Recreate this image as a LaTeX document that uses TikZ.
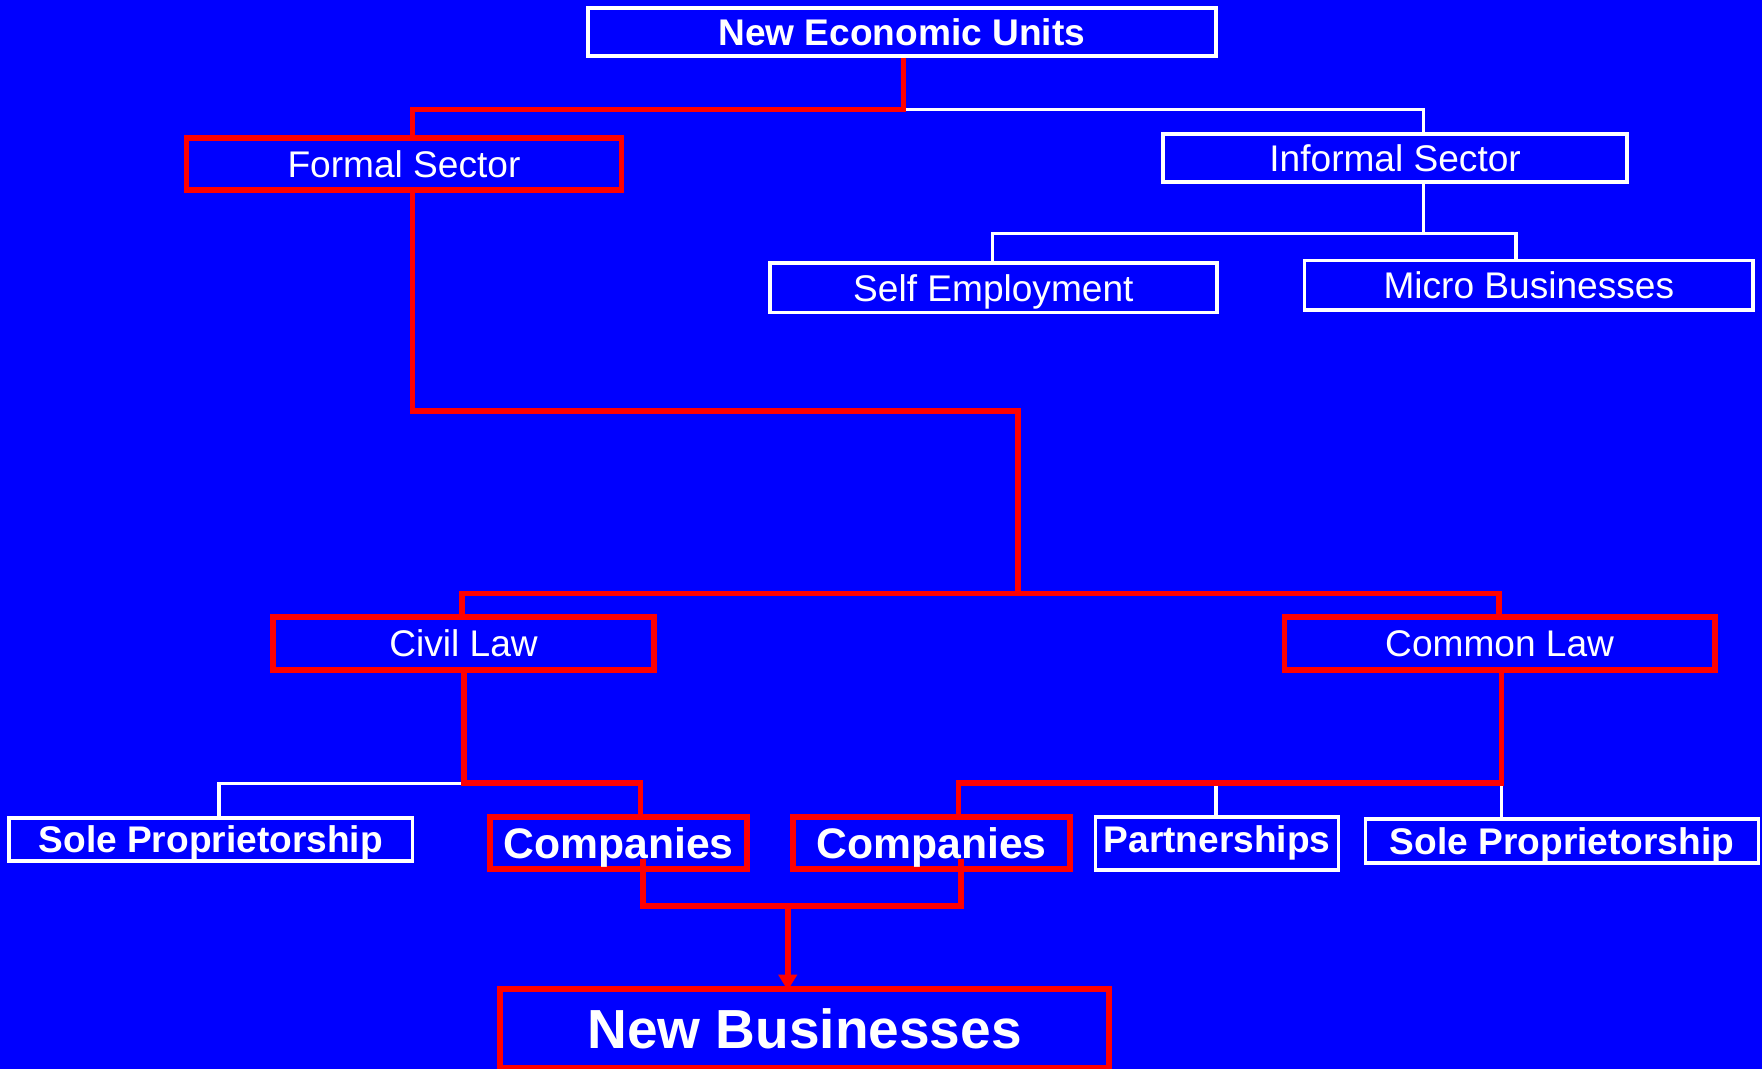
\documentclass[tikz,border=0pt]{standalone}
\usepackage{fontspec}
\setmainfont{Liberation Sans}
\usepackage{tikz}
\usetikzlibrary{arrows.meta,positioning}
\definecolor{slideblue}{RGB}{0,0,255}
\definecolor{linered}{RGB}{255,0,0}
\tikzset{
    %Define standard arrow tip
    >={Triangle[width=8pt,length=7pt]},
    %Define style for boxes
    wbox/.style={
           rectangle,
           draw=white, line width=1.6pt,
           text=white,
           inner sep=0pt,
           text depth=0pt,
           font=\fontsize{16.5}{19}\selectfont,
           align=center},
    rbox/.style={
           wbox,
           draw=linered, line width=2.6pt},
    boldtext/.style={font=\fontsize{16.5}{19}\selectfont\bfseries},
    bigtext/.style={font=\fontsize{19}{22}\selectfont\bfseries},
    hugetext/.style={font=\fontsize{24.5}{28}\selectfont\bfseries},
    % Define line styles
    wline/.style={draw=white, line width=1.5pt},
    rline/.style={draw=linered, line width=2.5pt}
}

\begin{document}
\begin{tikzpicture}[x=0.5pt,y=-0.5pt]
  \useasboundingbox (0,0) rectangle (1568,951);
  \fill[slideblue] (0,0) rectangle (1568,951);

  % boxes
  \node[wbox,boldtext,minimum width=279.5pt,minimum height=21.5pt] (neu) at (802.5,28.5) {New Economic Units};
  \node[rbox,minimum width=193.5pt,minimum height=23pt] (formal) at (359.5,146) {Formal Sector};
  \node[wbox,minimum width=206.5pt,minimum height=21.5pt] (informal) at (1241.5,140.5) {Informal Sector};
  \node[wbox,minimum width=199pt,minimum height=22pt] (self) at (884,256) {Self Employment};
  \node[wbox,minimum width=199.5pt,minimum height=22pt] (micro) at (1360.5,254) {Micro Businesses};
  \node[rbox,minimum width=169.5pt,minimum height=23.5pt] (civil) at (412.5,572.5) {Civil Law};
  \node[rbox,minimum width=191.5pt,minimum height=23.5pt] (common) at (1334.5,572.5) {Common Law};
  \node[wbox,boldtext,minimum width=179.5pt,minimum height=19pt] (sole1) at (187.5,747) {Sole Proprietorship};
  \node[rbox,bigtext,minimum width=114.5pt,minimum height=23pt] (comp1) at (550.5,750) {Companies};
  \node[rbox,bigtext,minimum width=123pt,minimum height=23pt] (comp2) at (829,750) {Companies};
  \node[wbox,boldtext,text depth=,minimum width=108pt,minimum height=23.5pt] (partner) at (1083,750.5) {Partnerships};
  \node[wbox,boldtext,minimum width=175pt,minimum height=19.5pt] (sole2) at (1390,748.5) {Sole Proprietorship};
  \node[rbox,hugetext,minimum width=271pt,minimum height=35pt] (newbiz) at (716,915) {New Businesses};

  % junctions
  \coordinate (top) at (804,97.5);
  \coordinate (fx) at (367,97.5);
  \coordinate (ix) at (1267,97.5);
  \coordinate (inf) at (1267,208);
  \coordinate (sx) at (883,208);
  \coordinate (mx) at (1349,208);
  \coordinate (f1) at (367,366);
  \coordinate (f2) at (906,366);
  \coordinate (law) at (906,528);
  \coordinate (cx) at (411,528);
  \coordinate (kx) at (1334,528);
  \coordinate (c1) at (413,697);
  \coordinate (p1x) at (570,697);
  \coordinate (s1x) at (195,697);
  \coordinate (k1) at (1336,697);
  \coordinate (p2x) at (853,697);
  \coordinate (ptx) at (1082,697);
  \coordinate (c1in) at (572,764);
  \coordinate (c2in) at (855,764);
  \coordinate (q1) at (572,806);
  \coordinate (q2) at (855,806);
  \coordinate (qm) at (701,806);

  % white connectors
  \draw[wline] (top) -- (ix) -- (ix |- informal.north);
  \draw[wline] (informal.south -| inf) -- (inf);
  \draw[wline] (sx |- self.north) -- (sx) -- (mx) -- (mx |- micro.north);
  \draw[wline] (c1) -- (s1x) -- (s1x |- sole1.north);
  \draw[wline] (ptx) -- (ptx |- partner.north);
  \draw[wline] (k1) -- (k1 |- sole2.north);

  % red connectors
  \draw[rline] (neu.south -| top) -- (top) -- (fx) -- (fx |- formal.north);
  \draw[rline] (formal.south -| f1) -- (f1) -- (f2) -- (law);
  \draw[rline] (cx |- civil.north) -- (cx) -- (kx) -- (kx |- common.north);
  \draw[rline] (civil.south -| c1) -- (c1) -- (p1x) -- (p1x |- comp1.north);
  \draw[rline] (common.south -| k1) -- (k1) -- (p2x) -- (p2x |- comp2.north);
  \draw[rline] (c1in) -- (q1) -- (q2) -- (c2in);
  \draw[rline,->,fill=linered] (qm) -- ([yshift=-2pt]newbiz.north -| qm);
\end{tikzpicture}
\end{document}
